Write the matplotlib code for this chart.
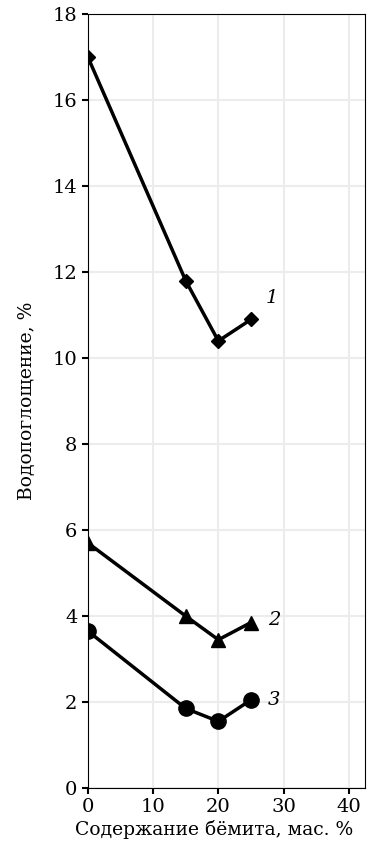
import matplotlib
matplotlib.use("Agg")
import matplotlib.pyplot as plt

# boehmite content, wt. %
x = [0, 15, 20, 25]
# water absorption, %
s1 = [17.0, 11.8, 10.4, 10.9]
s2 = [5.7, 4.0, 3.45, 3.85]
s3 = [3.65, 1.85, 1.55, 2.05]
labels = ['1', '2', '3']

plt.rcParams['font.family'] = 'DejaVu Serif'

fig = plt.figure(figsize=(3.68, 8.41), dpi=100)
ax = fig.add_axes([0.239, 0.063, 0.753, 0.920])

ax.plot(x, s1, color='black', lw=2.5, marker='D', ms=7.5)
ax.plot(x, s2, color='black', lw=2.5, marker='^', ms=10)
ax.plot(x, s3, color='black', lw=2.5, marker='o', ms=11)

ax.text(27.3, 11.4, labels[0], fontsize=14, style='italic', va='center')
ax.text(27.6, 3.9, labels[1], fontsize=14, style='italic', va='center')
ax.text(27.6, 2.05, labels[2], fontsize=14, style='italic', va='center')

ax.set_xlim(0, 42.5)
ax.set_ylim(0, 18)
ax.set_xticks([0, 10, 20, 30, 40])
ax.set_yticks(range(0, 19, 2))
ax.grid(True, color='#ececec', lw=1.5)
ax.set_axisbelow(True)
ax.tick_params(labelsize=14, width=1.5, length=4)
ax.set_xlabel('Содержание бёмита, мас. %', fontsize=13.5)
ax.xaxis.set_label_coords(0.455, -0.041)
ax.set_ylabel('Водопоглощение, %', fontsize=13.5, labelpad=12)

fig.savefig('out.png', dpi=100)
